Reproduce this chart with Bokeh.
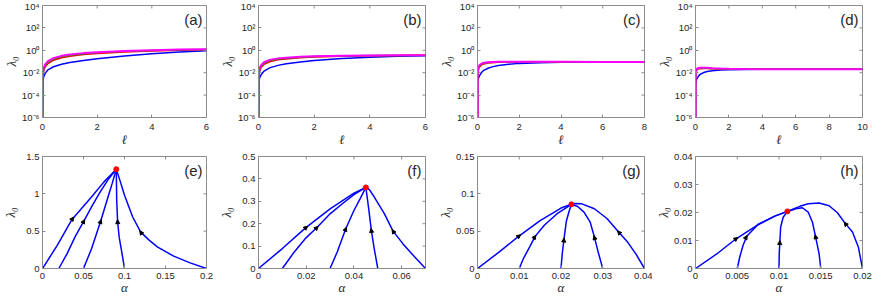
import math
from bokeh.plotting import figure
from bokeh.layouts import column, row
from bokeh.models import (FixedTicker, CustomJSTickFormatter, Label, Arrow, NormalHead, Range1d,
                          LinearAxis)
from bokeh.embed import file_html
from bokeh.resources import INLINE

# ---------------- top row: lambda_0 vs ell (log scale) ----------------
log_yticks = [1e-6, 1e-4, 1e-2, 1.0, 1e2, 1e4]

a_ell = [0.005, 0.008, 0.02, 0.05, 0.1, 0.2, 0.4, 0.7, 1, 1.5, 2, 3, 4, 5, 6]
a_blue = [1e-6, 7e-4, 2.5e-3, 4.5e-3, 9e-3, 0.018, 0.034, 0.057, 0.08, 0.125, 0.18, 0.31, 0.5, 0.72, 0.93]
a_red = [1e-6, 2e-3, 6.5e-3, 0.017, 0.033, 0.066, 0.13, 0.22, 0.3, 0.42, 0.53, 0.72, 0.88, 1.02, 1.12]
a_green = [1e-6, 3e-3, 9e-3, 0.024, 0.045, 0.09, 0.17, 0.28, 0.37, 0.5, 0.62, 0.82, 0.97, 1.1, 1.2]
a_magenta = [1e-6, 4e-3, 0.012, 0.03, 0.055, 0.11, 0.2, 0.32, 0.42, 0.56, 0.68, 0.88, 1.03, 1.15, 1.24]
a_xticks = [0, 2, 4, 6]

b_ell = [0.005, 0.008, 0.02, 0.05, 0.1, 0.2, 0.4, 0.7, 1, 1.5, 2, 3, 4, 5, 6]
b_blue = [1e-6, 8e-4, 2.2e-3, 4e-3, 7e-3, 0.014, 0.027, 0.045, 0.063, 0.092, 0.125, 0.185, 0.24, 0.29, 0.33]
b_red = [1e-6, 2e-3, 6.5e-3, 0.016, 0.03, 0.055, 0.095, 0.14, 0.17, 0.215, 0.25, 0.295, 0.325, 0.345, 0.355]
b_green = [1e-6, 3e-3, 9e-3, 0.022, 0.04, 0.072, 0.12, 0.17, 0.2, 0.245, 0.275, 0.31, 0.335, 0.35, 0.36]
b_magenta = [1e-6, 4e-3, 0.012, 0.028, 0.048, 0.085, 0.14, 0.19, 0.22, 0.26, 0.29, 0.32, 0.345, 0.36, 0.37]
b_xticks = [0, 2, 4, 6]

c_ell = [0.005, 0.008, 0.02, 0.05, 0.1, 0.2, 0.3, 0.5, 0.7, 1, 1.5, 2, 3, 4, 6, 8]
c_blue = [1e-6, 8e-4, 2e-3, 3.5e-3, 5.5e-3, 0.011, 0.016, 0.025, 0.033, 0.044, 0.058, 0.068, 0.079, 0.085, 0.089, 0.09]
c_red = [1e-6, 3e-3, 9e-3, 0.021, 0.033, 0.05, 0.06, 0.072, 0.079, 0.085, 0.089, 0.091, 0.092, 0.092, 0.092, 0.091]
c_green = [1e-6, 4e-3, 0.012, 0.027, 0.041, 0.059, 0.069, 0.08, 0.086, 0.09, 0.093, 0.093, 0.093, 0.093, 0.092, 0.092]
c_magenta = [1e-6, 5e-3, 0.015, 0.032, 0.048, 0.066, 0.076, 0.086, 0.091, 0.094, 0.095, 0.095, 0.094, 0.093, 0.092, 0.092]
c_xticks = [0, 2, 4, 6, 8]

d_ell = [0.005, 0.008, 0.02, 0.05, 0.1, 0.2, 0.3, 0.5, 0.7, 1, 1.5, 2, 3, 4, 6, 8, 10]
d_blue = [1e-6, 6e-4, 1.3e-3, 2.2e-3, 3.2e-3, 5.5e-3, 7.5e-3, 0.0105, 0.0128, 0.0152, 0.0175, 0.0187, 0.0196, 0.0199, 0.02, 0.02, 0.02]
d_red = [1e-6, 3e-3, 8e-3, 0.014, 0.019, 0.022, 0.023, 0.0235, 0.0232, 0.0225, 0.0215, 0.021, 0.0205, 0.0202, 0.0201, 0.02, 0.02]
d_green = [1e-6, 4e-3, 0.01, 0.017, 0.021, 0.024, 0.025, 0.0255, 0.025, 0.024, 0.0225, 0.0215, 0.0207, 0.0203, 0.0201, 0.02, 0.02]
d_magenta = [1e-6, 5e-3, 0.012, 0.02, 0.024, 0.027, 0.028, 0.028, 0.027, 0.0255, 0.0235, 0.022, 0.021, 0.0204, 0.0201, 0.0201, 0.02]
d_xticks = [0, 2, 4, 6, 8, 10]

top_colors = ["#0000ff", "#ff0000", "#00a000", "#ff00ff"]

# ---------------- bottom row: lambda_0 vs alpha ----------------
e_c1_alpha = [0, 0.018, 0.036, 0.06, 0.075, 0.09]
e_c1_lam = [0, 0.31, 0.657, 0.96, 1.16, 1.33]
e_c2_alpha = [0.02, 0.03, 0.04, 0.0504, 0.06, 0.07, 0.08, 0.09]
e_c2_lam = [0, 0.2, 0.43, 0.635, 0.83, 1.02, 1.19, 1.33]
e_c3_alpha = [0.05, 0.06, 0.0708, 0.075, 0.08, 0.085, 0.09]
e_c3_lam = [0, 0.27, 0.63, 0.78, 0.96, 1.14, 1.33]
e_c4_alpha = [0.1, 0.097, 0.0935, 0.0916, 0.0905, 0.09]
e_c4_lam = [0, 0.2, 0.42, 0.63, 0.91, 1.33]
e_c5_alpha = [0.2, 0.18, 0.16, 0.14, 0.13, 0.1196, 0.11, 0.1, 0.095, 0.09]
e_c5_lam = [0, 0.075, 0.165, 0.29, 0.38, 0.49, 0.69, 0.98, 1.16, 1.33]
e_arrow_idx = [2, 3, 2, 3, 5]
e_peak_alpha = [0.09]
e_peak_lam = [1.33]
e_xticks = [0, 0.05, 0.1, 0.15, 0.2]
e_yticks = [0, 0.5, 1, 1.5]

f_c1_alpha = [0, 0.01, 0.0196, 0.03, 0.04, 0.045]
f_c1_lam = [0, 0.089, 0.18, 0.266, 0.336, 0.362]
f_c2_alpha = [0.01, 0.015, 0.02, 0.0245, 0.03, 0.035, 0.04, 0.045]
f_c2_lam = [0, 0.074, 0.138, 0.183, 0.244, 0.288, 0.33, 0.362]
f_c3_alpha = [0.03, 0.033, 0.0365, 0.04, 0.0425, 0.045]
f_c3_lam = [0, 0.074, 0.175, 0.259, 0.31, 0.362]
f_c4_alpha = [0.05, 0.0485, 0.0473, 0.0462, 0.045]
f_c4_lam = [0, 0.089, 0.17, 0.266, 0.362]
f_c5_alpha = [0.07, 0.0654, 0.0605, 0.0564, 0.0528, 0.0486, 0.0465, 0.045]
f_c5_lam = [0, 0.052, 0.111, 0.167, 0.244, 0.318, 0.352, 0.362]
f_arrow_idx = [2, 3, 2, 2, 3]
f_peak_alpha = [0.045]
f_peak_lam = [0.362]
f_xticks = [0, 0.02, 0.04, 0.06]
f_yticks = [0, 0.1, 0.2, 0.3, 0.4, 0.5]

g_c1_alpha = [0, 0.005, 0.00984, 0.015, 0.02, 0.0225]
g_c1_lam = [0, 0.0213, 0.043, 0.064, 0.081, 0.086]
g_c2_alpha = [0.01, 0.011, 0.0125, 0.0138, 0.016, 0.019, 0.0225]
g_c2_lam = [0, 0.0133, 0.029, 0.043, 0.058, 0.073, 0.086]
g_c3_alpha = [0.02, 0.0203, 0.0207, 0.0213, 0.022, 0.0225]
g_c3_lam = [0, 0.02, 0.0386, 0.064, 0.0777, 0.086]
g_c4_alpha = [0.03, 0.029, 0.028, 0.027, 0.0255, 0.024, 0.0225]
g_c4_lam = [0, 0.02, 0.042, 0.062, 0.0755, 0.083, 0.086]
g_c5_alpha = [0.04, 0.038, 0.036, 0.0338, 0.031, 0.028, 0.025, 0.0235, 0.0225]
g_c5_lam = [0, 0.019, 0.035, 0.0488, 0.067, 0.080, 0.0866, 0.087, 0.086]
g_arrow_idx = [2, 3, 2, 2, 3]
g_peak_alpha = [0.0225]
g_peak_lam = [0.086]
g_xticks = [0, 0.01, 0.02, 0.03, 0.04]
g_yticks = [0, 0.05, 0.1, 0.15]

h_c1_alpha = [0, 0.0025, 0.00482, 0.0075, 0.0095, 0.011]
h_c1_lam = [0, 0.0051, 0.01053, 0.0157, 0.0187, 0.0204]
h_c2_alpha = [0.005, 0.0053, 0.0057, 0.00614, 0.0068, 0.0075, 0.0095, 0.011]
h_c2_lam = [0, 0.0041, 0.0083, 0.0115, 0.0136, 0.0157, 0.0187, 0.0204]
h_c3_alpha = [0.01, 0.01003, 0.0101, 0.0102, 0.0105, 0.011]
h_c3_lam = [0, 0.0053, 0.0095, 0.0148, 0.0183, 0.0204]
h_c4_alpha = [0.015, 0.0148, 0.01437, 0.014, 0.0135, 0.0128, 0.012, 0.0115, 0.011]
h_c4_lam = [0, 0.0053, 0.0115, 0.0166, 0.0201, 0.0217, 0.0213, 0.0208, 0.0204]
h_c5_alpha = [0.02, 0.0195, 0.0188, 0.0179, 0.017, 0.016, 0.0148, 0.0135, 0.0125, 0.0118, 0.011]
h_c5_lam = [0, 0.0077, 0.013, 0.0162, 0.0199, 0.0224, 0.0234, 0.0231, 0.0222, 0.0214, 0.0204]
h_arrow_idx = [2, 3, 2, 2, 3]
h_peak_alpha = [0.011]
h_peak_lam = [0.0204]
h_xticks = [0, 0.005, 0.01, 0.015, 0.02]
h_yticks = [0, 0.01, 0.02, 0.03, 0.04]

panel_labels = ["(a)", "(b)", "(c)", "(d)", "(e)", "(f)", "(g)", "(h)"]
ylabel_text = "\u03bb\u2080"
top_xlabel = "\u2113"
bottom_xlabel = "\u03b1"

# ---------------- layout / styling ----------------
AX = "#8c8c8c"
TXT = "#262626"
COLW = [214, 219, 219, 220]
BL = [39, 44, 44, 43]
BR = [8, 8, 8, 10]
TOP_H, TOP_BT, TOP_BB = 150, 5, 33
BOT_H, BOT_BT, BOT_BB = 148, 6, 30
TICK_PX = 3
YLAB_SO_BOT = [5, 5, 0, 0]

lin_fmt = CustomJSTickFormatter(code="return String(Math.round(tick*1e6)/1e6);")
log_fmt = CustomJSTickFormatter(code="""
const e = Math.round(Math.log10(tick));
const sup = {'-':'\u207b','0':'\u2070','1':'\u00b9','2':'\u00b2','3':'\u00b3','4':'\u2074','5':'\u2075','6':'\u2076','7':'\u2077','8':'\u2078','9':'\u2079'};
return '10' + String(e).split('').map(c => sup[c]).join('');
""")


def label_style(ax):
    ax.axis_label_text_font = "Liberation Serif"
    ax.axis_label_text_font_style = "italic"
    ax.axis_label_text_font_size = "13px"
    ax.axis_label_text_color = TXT


def style(p, xlabel, xticks, yticks, yfmt, x_std, x_lab_so, ylab, y_lab_so):
    p.outline_line_color = AX
    p.outline_line_width = 1
    p.grid.visible = False
    p.background_fill_color = "white"
    p.border_fill_color = "white"
    p.xaxis.ticker = FixedTicker(ticks=xticks)
    p.yaxis.ticker = FixedTicker(ticks=yticks)
    p.xaxis.formatter = lin_fmt
    p.yaxis.formatter = yfmt
    p.xaxis.axis_label = xlabel
    if ylab is not None:
        p.yaxis.axis_label = ylab
    for ax in (p.xaxis[0], p.yaxis[0]):
        ax.axis_line_color = AX
        ax.major_tick_line_color = AX
        ax.major_tick_in = TICK_PX
        ax.major_tick_out = 0
        ax.minor_tick_line_color = None
        ax.major_label_text_font = "Liberation Sans"
        ax.major_label_text_font_size = "9.5px"
        ax.major_label_text_color = TXT
        label_style(ax)
    p.xaxis.major_label_standoff = x_std
    p.xaxis.axis_label_standoff = x_lab_so
    p.yaxis.major_label_standoff = 3
    p.yaxis.axis_label_standoff = y_lab_so


def linear_label_axis(p, text, standoff):
    # a label-only axis on a linear helper range, so the label sits at the frame's middle
    p.extra_y_ranges = {"lab": Range1d(0, 1)}
    ax = LinearAxis(y_range_name="lab", ticker=FixedTicker(ticks=[0.5]),
                    major_label_overrides={0.5: ""}, axis_label=text,
                    axis_line_color=None, major_tick_line_color=None, minor_tick_line_color=None,
                    major_tick_in=0, major_tick_out=0, major_label_standoff=0,
                    axis_label_standoff=standoff)
    label_style(ax)
    p.add_layout(ax, "left")


def mirror_ticks(p, xticks, yticks, xmax, ylo, yhi, fw, fh, log):
    # inward tick marks on the top and right edges (box with mirrored ticks)
    dx = TICK_PX * xmax / fw
    if log:
        ytop_in = yhi / 10 ** (TICK_PX * math.log10(yhi / ylo) / fh)
    else:
        ytop_in = yhi - TICK_PX * (yhi - ylo) / fh
    p.segment(x0=xticks, y0=[yhi] * len(xticks), x1=xticks, y1=[ytop_in] * len(xticks),
              line_color=AX, line_width=1)
    p.segment(x0=[xmax] * len(yticks), y0=yticks, x1=[xmax - dx] * len(yticks), y1=yticks,
              line_color=AX, line_width=1)


def panel_label(p, text, x, y):
    p.add_layout(Label(x=x, y=y, text=text, x_offset=-4, y_offset=-5,
                       text_align="right", text_baseline="top", text_font="Liberation Sans",
                       text_font_size="15px", text_color=TXT))


top_data = [
    (a_ell, [a_blue, a_red, a_green, a_magenta], a_xticks),
    (b_ell, [b_blue, b_red, b_green, b_magenta], b_xticks),
    (c_ell, [c_blue, c_red, c_green, c_magenta], c_xticks),
    (d_ell, [d_blue, d_red, d_green, d_magenta], d_xticks),
]

top_figs = []
for i, (ell, curves, xt) in enumerate(top_data):
    ylo, yhi = log_yticks[0], log_yticks[-1]
    xmax = xt[-1]
    p = figure(width=COLW[i], height=TOP_H, output_backend="svg", toolbar_location=None,
               y_axis_type="log", x_range=Range1d(0, xmax), y_range=Range1d(ylo, yhi),
               min_border_left=BL[i], min_border_right=BR[i],
               min_border_top=TOP_BT, min_border_bottom=TOP_BB)
    for curve, col in zip(curves, top_colors):
        p.line(ell, curve, line_color=col, line_width=2.0 if col == "#ff00ff" else 1.5)
    style(p, top_xlabel, xt, log_yticks, log_fmt, 6, -1, None, 0)
    linear_label_axis(p, ylabel_text, 0)
    fw = COLW[i] - BL[i] - BR[i]
    fh = TOP_H - TOP_BT - TOP_BB
    mirror_ticks(p, xt, log_yticks, xmax, ylo, yhi, fw, fh, True)
    panel_label(p, panel_labels[i], xmax, yhi)
    top_figs.append(p)

bottom_data = [
    ([(e_c1_alpha, e_c1_lam), (e_c2_alpha, e_c2_lam), (e_c3_alpha, e_c3_lam), (e_c4_alpha, e_c4_lam), (e_c5_alpha, e_c5_lam)],
     e_arrow_idx, e_peak_alpha, e_peak_lam, e_xticks, e_yticks, e_xticks[-1]),
    ([(f_c1_alpha, f_c1_lam), (f_c2_alpha, f_c2_lam), (f_c3_alpha, f_c3_lam), (f_c4_alpha, f_c4_lam), (f_c5_alpha, f_c5_lam)],
     f_arrow_idx, f_peak_alpha, f_peak_lam, f_xticks, f_yticks, 0.07),
    ([(g_c1_alpha, g_c1_lam), (g_c2_alpha, g_c2_lam), (g_c3_alpha, g_c3_lam), (g_c4_alpha, g_c4_lam), (g_c5_alpha, g_c5_lam)],
     g_arrow_idx, g_peak_alpha, g_peak_lam, g_xticks, g_yticks, g_xticks[-1]),
    ([(h_c1_alpha, h_c1_lam), (h_c2_alpha, h_c2_lam), (h_c3_alpha, h_c3_lam), (h_c4_alpha, h_c4_lam), (h_c5_alpha, h_c5_lam)],
     h_arrow_idx, h_peak_alpha, h_peak_lam, h_xticks, h_yticks, h_xticks[-1]),
]

bottom_figs = []
for i, (curves, aidx, pk_a, pk_l, xt, yt, xmax) in enumerate(bottom_data):
    ylo, yhi = 0, yt[-1]
    p = figure(width=COLW[i], height=BOT_H, output_backend="svg", toolbar_location=None,
               x_range=Range1d(0, xmax), y_range=Range1d(ylo, yhi),
               min_border_left=BL[i], min_border_right=BR[i],
               min_border_top=BOT_BT, min_border_bottom=BOT_BB)
    for (xa, ya), k in zip(curves, aidx):
        p.line(xa, ya, line_color="#0000ff", line_width=1.5)
        dx = xa[k + 1] - xa[k - 1]
        dy = ya[k + 1] - ya[k - 1]
        p.add_layout(Arrow(end=NormalHead(size=4, fill_color="black", line_color="black", line_width=1),
                           x_start=xa[k] - 0.05 * dx, y_start=ya[k] - 0.05 * dy,
                           x_end=xa[k] + 0.05 * dx, y_end=ya[k] + 0.05 * dy,
                           line_alpha=0, line_width=0))
    p.scatter(pk_a, pk_l, size=5, color="red")
    style(p, bottom_xlabel, xt, yt, lin_fmt, 4, -2, ylabel_text, YLAB_SO_BOT[i])
    fw = COLW[i] - BL[i] - BR[i]
    fh = BOT_H - BOT_BT - BOT_BB
    mirror_ticks(p, xt, yt, xmax, ylo, yhi, fw, fh, False)
    panel_label(p, panel_labels[4 + i], xmax, yhi)
    bottom_figs.append(p)

layout = column(row(*top_figs, spacing=0), row(*bottom_figs, spacing=0), spacing=0)
open("out.html", "w").write(file_html(layout, INLINE))
